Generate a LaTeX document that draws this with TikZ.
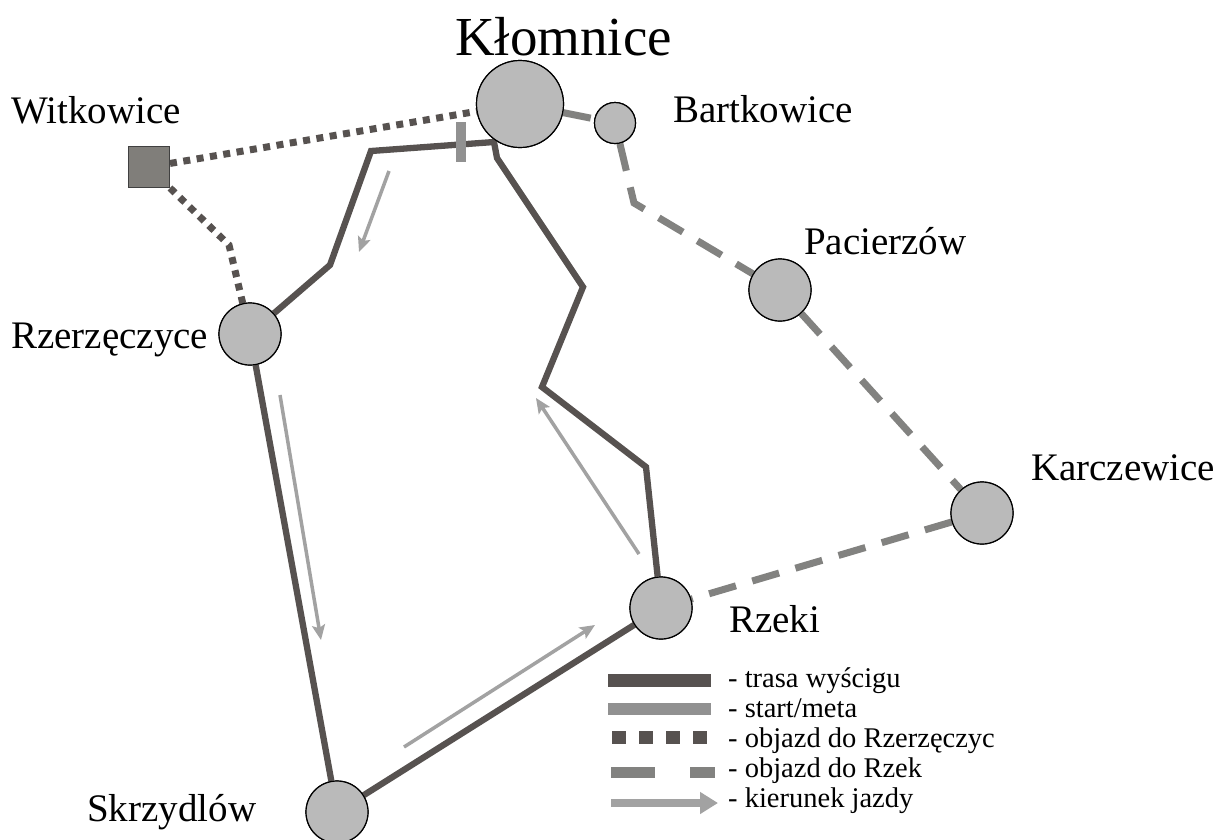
\documentclass[tikz,border=0pt]{standalone}
\usepackage{fontspec}
\setmainfont{Liberation Serif}
\usetikzlibrary{arrows.meta}
\definecolor{routec}{RGB}{87,82,80}
\definecolor{startc}{RGB}{145,145,145}
\definecolor{dashc}{RGB}{130,130,128}
\definecolor{arrowc}{RGB}{162,162,162}
\definecolor{townc}{RGB}{186,186,186}
\definecolor{sqc}{RGB}{128,126,122}
\tikzset{
  town/.style={circle, draw=black, line width=1.2pt, fill=townc, inner sep=0pt, minimum size=62pt},
  wsq/.style={draw=black!75, line width=1pt, fill=sqc, minimum size=41pt, inner sep=0pt},
  route/.style={draw=routec, line width=6.3pt, line join=miter},
  dotline/.style={draw=routec, line width=7pt, dash pattern=on 7pt off 6.5pt},
  dashline/.style={draw=dashc, line width=7pt, dash pattern=on 28pt off 17pt},
  dirarrow/.style={draw=arrowc, line width=3.5pt, -{Stealth[length=15pt,width=13pt,inset=3pt]}},
  lbl/.style={anchor=base west, inner sep=0pt, font=\fontsize{39}{45}\selectfont},
  leg/.style={anchor=base west, inner sep=0pt, font=\fontsize{28.5}{32}\selectfont},
}
\begin{document}
\begin{tikzpicture}[x=1pt,y=-1pt]
\useasboundingbox[fill=white] (0,0) rectangle (1218,839);

% towns (placed first so connectors can use their names)
\node[town, minimum size=87pt] (klo) at (520,104) {};
\node[town, minimum size=41pt] (bar) at (615,123) {};
\node[town] (rz) at (250,334) {};
\node[town] (pac) at (780,290) {};
\node[town] (kar) at (982,513) {};
\node[town] (rze) at (661,608) {};
\node[town] (sk) at (337,812) {};
\node[wsq] (wit) at (149,167) {};

% detour to Rzerzęczyce (dotted)
\draw[dotline] (wit) -- (klo);
\draw[dotline] (wit.south east) -- (229,245) -- (rz);

% detour to Rzeki (dashed)
\draw[dashline] (klo) -- (bar);
\draw[dashline] (bar) -- (634,203) -- (pac);
\draw[dashline] (pac) -- (kar);
\draw[dashline] (kar) -- (rze);

% race route
\draw[route] (rz) -- (330,265) -- (371,151) -- (494,142) -- (497,158) -- (583,287) -- (542,387) -- (646,467) -- (rze);
\draw[route] (rz) -- (sk);
\draw[route] (sk) -- (rze);

% start / finish
\fill[startc] (456,122) rectangle (466,162);

% direction arrows
\draw[dirarrow] (389,171) -- (359,252);
\draw[dirarrow] (280,395) -- (321,640);
\draw[dirarrow] (404,747) -- (595,625);
\draw[dirarrow] (639,554) -- (536,398);

% redraw towns on top
\node[town, minimum size=87pt] at (klo) {};
\node[town, minimum size=41pt] at (bar) {};
\node[town] at (rz) {};
\node[town] at (pac) {};
\node[town] at (kar) {};
\node[town] at (rze) {};
\node[town] at (sk) {};
\node[wsq] at (wit) {};

% labels
\node[anchor=base west, inner sep=0pt, font=\fontsize{55}{60}\selectfont] (tklo) at (455,55) {Kłomnice};
\node[lbl] (twit) at (11,123) {Witkowice};
\node[lbl] (tbar) at (673,122) {Bartkowice};
\node[lbl] (trz) at (11,348) {Rzerzęczyce};
\node[lbl] (tpac) at (804,254) {Pacierzów};
\node[lbl] (tkar) at (1031,480) {Karczewice};
\node[lbl] (trze) at (729,632) {Rzeki};
\node[lbl] (tsk) at (87,821) {Skrzydlów};

% legend
\draw[draw=routec, line width=13pt] (608,680) -- (711,680);
\draw[draw=startc, line width=12pt] (608,709) -- (711,709);
\draw[draw=routec, line width=13pt, dash pattern=on 13.5pt off 13.5pt] (612,737) -- (707,737);
\draw[draw=dashc, line width=11pt, dash pattern=on 44pt off 35pt] (611,772) -- (715,772);
\draw[draw=arrowc, line width=8pt, -{Triangle[length=18pt,width=21pt]}] (611,803) -- (718,803);
\node[leg] (l1) at (728,687) {- trasa wyścigu};
\node[leg] (l2) at (728,717) {- start/meta};
\node[leg] (l3) at (728,747) {- objazd do Rzerzęczyc};
\node[leg] (l4) at (728,777) {- objazd do Rzek};
\node[leg] (l5) at (728,807) {- kierunek jazdy};
\end{tikzpicture}
\end{document}
